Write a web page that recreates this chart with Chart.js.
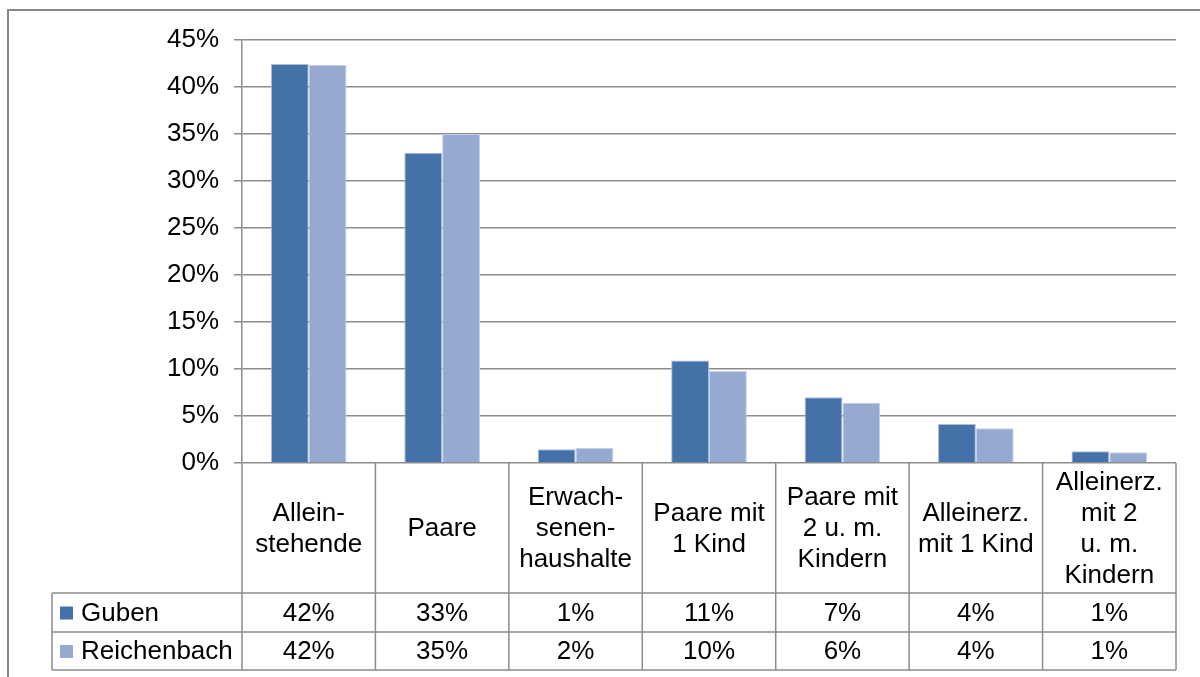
<!DOCTYPE html>
<html>
<head>
<meta charset="utf-8">
<script src="https://cdn.jsdelivr.net/npm/chart.js@4"></script>
<style>
  html, body { margin: 0; padding: 0; background: #fff; }
  #wrap { width: 1200px; height: 677px; }
</style>
</head>
<body>
<div id="wrap"><canvas id="hhChart" width="1200" height="677"></canvas></div>
<script>
const categories = [
    ['Allein-', 'stehende'],
    ['Paare'],
    ['Erwach-', 'senen-', 'haushalte'],
    ['Paare mit', '1 Kind'],
    ['Paare mit', '2 u. m.', 'Kindern'],
    ['Alleinerz.', 'mit 1 Kind'],
    ['Alleinerz.', 'mit 2', 'u. m.', 'Kindern']
];
const seriesNames = ['Guben', 'Reichenbach'];
const gubenValues = [42.45, 33.0, 1.45, 10.9, 7.0, 4.15, 1.25];
const reichenbachValues = [42.35, 35.0, 1.6, 9.8, 6.4, 3.7, 1.15];
const seriesColors = ['#4472a8', '#95a9d1'];
const yTicks = { min: 0, max: 45, step: 5 };

const FONT = '"Liberation Sans", Arial, sans-serif';
const LINE = '#8c8c8c';

// frame around the whole picture (left and top edges only are visible)
const framePlugin = {
    id: 'frame',
    beforeDraw(chart) {
        const ctx = chart.ctx;
        ctx.save();
        ctx.fillStyle = '#fff';
        ctx.fillRect(0, 0, chart.width, chart.height);
        ctx.strokeStyle = '#878787';
        ctx.lineWidth = 2;
        ctx.beginPath();
        ctx.moveTo(8, chart.height);
        ctx.lineTo(8, 10);
        ctx.lineTo(chart.width, 10);
        ctx.stroke();
        ctx.restore();
    }
};

// Excel style data table under the plot
const dataTablePlugin = {
    id: 'dataTable',
    afterDraw(chart) {
        const ctx = chart.ctx;
        const x = chart.scales.x;
        const area = chart.chartArea;
        const half = (x.getPixelForValue(1) - x.getPixelForValue(0)) / 2;
        const top = area.bottom;
        const headBottom = top + 130;
        const row1 = headBottom + 39;
        const row2 = row1 + 38;
        const legendLeft = 52;
        const right = x.getPixelForValue(categories.length - 1) + half;

        ctx.save();
        ctx.strokeStyle = LINE;
        ctx.lineWidth = 1.5;
        ctx.beginPath();
        for (let i = 0; i <= categories.length; i++) {
            const bx = x.getPixelForValue(0) - half + i * half * 2;
            ctx.moveTo(bx, top);
            ctx.lineTo(bx, row2);
        }
        [headBottom, row1, row2].forEach(y => {
            ctx.moveTo(legendLeft, y);
            ctx.lineTo(right, y);
        });
        ctx.moveTo(legendLeft, headBottom);
        ctx.lineTo(legendLeft, row2);
        ctx.stroke();

        ctx.fillStyle = '#000';
        ctx.font = '26px ' + FONT;
        ctx.textAlign = 'center';
        ctx.textBaseline = 'middle';
        const lh = 31;
        categories.forEach((lines, i) => {
            const cx = x.getPixelForValue(i);
            const cy = (top + headBottom) / 2 - (lines.length - 1) * lh / 2;
            lines.forEach((t, j) => ctx.fillText(t, cx, cy + j * lh + 1));
        });

        const rows = [[gubenValues, headBottom, row1], [reichenbachValues, row1, row2]];
        rows.forEach(([vals, y0, y1], r) => {
            const cy = (y0 + y1) / 2 + 1;
            ctx.textAlign = 'center';
            vals.forEach((v, i) => ctx.fillText(Math.round(v) + '%', x.getPixelForValue(i), cy));
            ctx.fillStyle = seriesColors[r];
            ctx.fillRect(60, cy - 7, 13, 13);
            ctx.fillStyle = '#000';
            ctx.textAlign = 'left';
            ctx.fillText(seriesNames[r], 81, cy);
        });
        ctx.restore();
    }
};

const ctx = document.getElementById('hhChart').getContext('2d');
new Chart(ctx, {
    type: 'bar',
    data: {
        labels: categories.map(c => c.join(' ')),
        datasets: [
            {
                label: seriesNames[0],
                data: gubenValues,
                backgroundColor: seriesColors[0],
                borderColor: '#a9bddb',
                borderWidth: 1
            },
            {
                label: seriesNames[1],
                data: reichenbachValues,
                backgroundColor: seriesColors[1],
                borderColor: '#c3d0e6',
                borderWidth: 1
            }
        ]
    },
    options: {
        responsive: false,
        animation: false,
        events: [],
        layout: { padding: { top: 40, right: 24, bottom: 214, left: 0 } },
        datasets: { bar: { categoryPercentage: 0.567, barPercentage: 1 } },
        plugins: {
            legend: { display: false },
            tooltip: { enabled: false }
        },
        scales: {
            x: { display: false },
            y: {
                min: yTicks.min,
                max: yTicks.max,
                afterFit: s => { s.width = 242; },
                ticks: {
                    stepSize: yTicks.step,
                    padding: 15,
                    color: '#000',
                    font: { family: FONT, size: 26 },
                    callback: v => v + '%'
                },
                grid: { color: LINE, lineWidth: 1.5, tickLength: 8 },
                border: { color: LINE, width: 1.5 }
            }
        }
    },
    plugins: [framePlugin, dataTablePlugin]
});
</script>
</body>
</html>
